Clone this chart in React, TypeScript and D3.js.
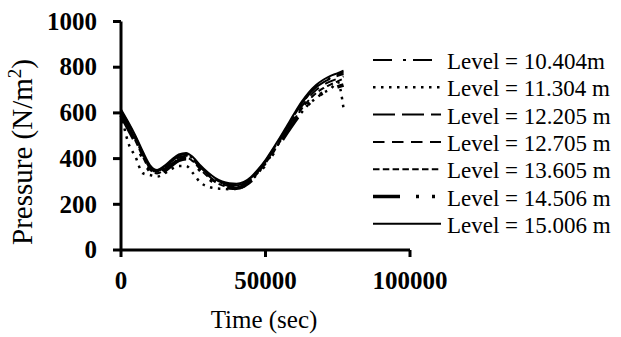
import React from "react";
import * as d3 from "d3";

const times = [0, 2500, 5000, 7500, 10000, 12500, 15000, 17500, 20000, 22500, 25000, 27500, 30000, 32500, 35000, 37500, 40000, 42500, 45000, 47500, 50000, 52500, 55000, 57500, 60000, 62500, 65000, 67500, 70000, 72500, 75000, 77000];

const level10404 = [605, 548, 488, 420, 362, 342, 360, 388, 410, 418, 398, 362, 332, 308, 292, 285, 283, 292, 314, 346, 386, 432, 482, 534, 585, 636, 680, 714, 738, 754, 768, 778];
const level11304 = [600, 470, 408, 336, 328, 321, 335, 355, 368, 368, 335, 295, 278, 270, 268, 266, 268, 278, 303, 338, 378, 425, 474, 520, 562, 602, 638, 664, 688, 705, 735, 620];
const level12205 = [610, 555, 495, 425, 365, 345, 362, 390, 412, 420, 400, 365, 335, 310, 295, 287, 285, 293, 316, 350, 390, 437, 487, 538, 590, 640, 682, 712, 734, 750, 762, 770];
const level12705 = [600, 545, 485, 418, 358, 340, 355, 382, 404, 412, 393, 358, 328, 303, 288, 280, 278, 288, 310, 344, 384, 430, 480, 530, 580, 628, 668, 700, 722, 738, 750, 760];
const level13605 = [595, 538, 478, 410, 352, 335, 350, 376, 398, 405, 387, 352, 322, 298, 283, 276, 274, 284, 306, 340, 380, 425, 474, 524, 572, 618, 656, 686, 708, 724, 738, 750];
const level14506 = [590, 530, 470, 402, 345, 330, 345, 370, 392, 400, 382, 347, 317, 293, 279, 272, 270, 280, 302, 336, 375, 420, 466, 514, 560, 604, 640, 668, 688, 702, 714, 722];
const level15006 = [615, 560, 500, 432, 372, 350, 368, 395, 418, 425, 405, 370, 340, 316, 300, 292, 290, 298, 320, 354, 394, 442, 492, 545, 598, 648, 690, 722, 745, 762, 774, 785];

const seriesNames = ["Level = 10.404m", "Level = 11.304 m", "Level = 12.205 m", "Level = 12.705 m", "Level = 13.605 m", "Level = 14.506 m", "Level = 15.006 m"];
const seriesValues = [level10404, level11304, level12205, level12705, level13605, level14506, level15006];
const dashes = ["19,11,3,7", "2.5,5.5", "22,7", "11.5,7.5", "6.5,3.3", "27,16,3,13,3,16", "none"];
const widths = [2, 2.5, 2, 2, 2, 3.6, 2];

const yTicks = [0, 200, 400, 600, 800, 1000];
const xTicks = [0, 50000, 100000];

const FONT = "'Liberation Serif', 'Times New Roman', serif";

export default function App() {
  const x = d3.scaleLinear().domain([0, 100000]).range([121, 410]);
  const y = d3.scaleLinear().domain([0, 1000]).range([250, 21.5]);
  const line = d3
    .line<number>()
    .x((_, i) => x(times[i]))
    .y((d) => y(d))
    .curve(d3.curveMonotoneX);

  const legendX0 = 373;
  const legendX1 = 441;
  const legendBase = 69;
  const legendStep = 27.3;

  return (
    <svg
      width={621}
      height={337}
      style={{ position: "absolute", left: 0, top: 0, background: "#fff" }}
      fontFamily={FONT}
    >
      <rect x={0} y={0} width={621} height={337} fill="#fff" />
      {/* series */}
      {seriesValues.map((vals, i) => (
        <path
          key={i}
          d={line(vals) || ""}
          fill="none"
          stroke="#000"
          strokeWidth={widths[i]}
          strokeDasharray={dashes[i]}
        />
      ))}
      {/* axes */}
      <line x1={x(0)} x2={x(0)} y1={y(1000)} y2={y(0)} stroke="#000" strokeWidth={3} />
      <line x1={x(0)} x2={x(100000)} y1={y(0)} y2={y(0)} stroke="#000" strokeWidth={3} />
      {yTicks.map((t) => (
        <g key={"y" + t}>
          <line x1={x(0) - 8} x2={x(0)} y1={y(t)} y2={y(t)} stroke="#000" strokeWidth={3} />
          <text
            x={97}
            y={y(t)}
            dy="0.33em"
            textAnchor="end"
            fontWeight="bold"
            fontSize={25}
          >
            {t}
          </text>
        </g>
      ))}
      {xTicks.map((t) => (
        <g key={"x" + t}>
          <line x1={x(t)} x2={x(t)} y1={y(0)} y2={y(0) + 7} stroke="#000" strokeWidth={3} />
          <text x={x(t)} y={289} textAnchor="middle" fontWeight="bold" fontSize={25}>
            {t}
          </text>
        </g>
      ))}
      {/* axis titles */}
      <text x={264} y={328} textAnchor="middle" fontSize={25}>
        Time (sec)
      </text>
      <text
        transform="translate(32,152) rotate(-90)"
        textAnchor="middle"
        fontSize={29}
      >
        Pressure (N/m<tspan fontSize={19} dy={-11}>2</tspan>
        <tspan dy={11}>)</tspan>
      </text>
      {/* legend */}
      {seriesNames.map((name, i) => {
        const by = legendBase + i * legendStep;
        return (
          <g key={"l" + i}>
            <line
              x1={legendX0}
              x2={legendX1}
              y1={by - 9}
              y2={by - 9}
              stroke="#000"
              strokeWidth={widths[i]}
              strokeDasharray={dashes[i]}
            />
            <text x={447} y={by} fontSize={23}>
              {name}
            </text>
          </g>
        );
      })}
    </svg>
  );
}
